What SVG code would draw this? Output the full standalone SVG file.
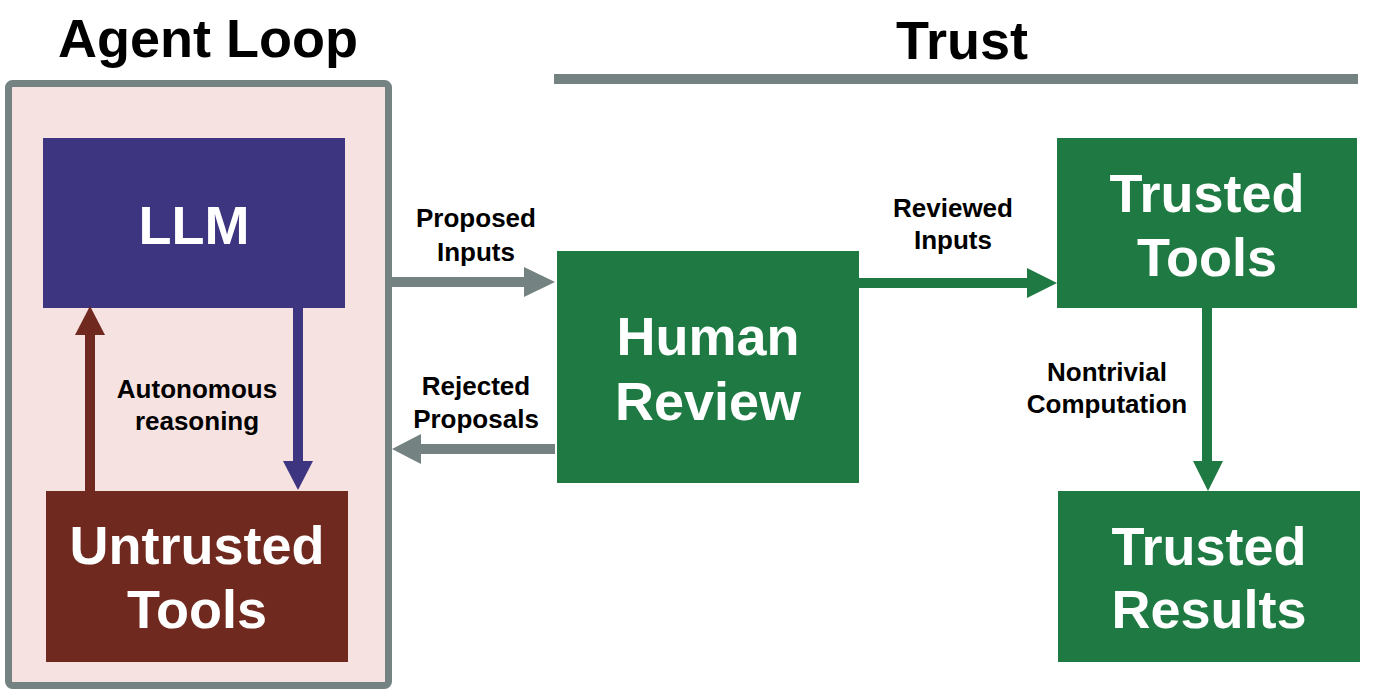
<svg xmlns="http://www.w3.org/2000/svg" width="1386" height="697" viewBox="0 0 1386 697">
<style>
.title{font-family:"Liberation Sans",Arial,sans-serif;font-weight:bold;font-size:54px;fill:#000;text-anchor:middle}
.big{font-family:"Liberation Sans",Arial,sans-serif;font-weight:bold;font-size:54px;fill:#fff;text-anchor:middle}
.lbl{font-family:"Liberation Sans",Arial,sans-serif;font-weight:bold;font-size:26px;fill:#000;text-anchor:middle}
</style>
<rect width="1386" height="697" fill="#fff"/>
<g id="agent-loop">
<rect x="8.5" y="83.5" width="380" height="602" rx="4" fill="#f6e2e0" stroke="#748281" stroke-width="7"/>
<text class="title" x="208" y="57">Agent Loop</text>
</g>
<g id="trust-header">
<text class="title" x="962" y="59">Trust</text>
<rect x="554" y="74" width="804" height="10" fill="#748281"/>
</g>
<g id="llm">
<rect x="43" y="138" width="302" height="170" fill="#3d3580"/>
<text class="big" x="194" y="244">LLM</text>
</g>
<g id="untrusted-tools">
<rect x="46" y="491" width="302" height="171" fill="#70291e"/>
<text class="big" x="197" y="564">Untrusted</text>
<text class="big" x="197" y="628">Tools</text>
</g>
<g id="human-review">
<rect x="557" y="251" width="302" height="232" fill="#1e7a42"/>
<text class="big" x="708" y="355">Human</text>
<text class="big" x="708" y="420">Review</text>
</g>
<g id="trusted-tools">
<rect x="1057" y="138" width="300" height="170" fill="#1e7a42"/>
<text class="big" x="1207" y="212">Trusted</text>
<text class="big" x="1207" y="276">Tools</text>
</g>
<g id="trusted-results">
<rect x="1058" y="491" width="302" height="171" fill="#1e7a42"/>
<text class="big" x="1209" y="565">Trusted</text>
<text class="big" x="1209" y="628">Results</text>
</g>
<g id="connectors">
<rect x="85" y="334" width="10" height="157" fill="#70291e"/>
<polygon points="75,335 105,335 90,306" fill="#70291e"/>
<rect x="293" y="308" width="10" height="154" fill="#3d3580"/>
<polygon points="283,461 313,461 298,490" fill="#3d3580"/>
<rect x="392" y="277" width="133" height="10" fill="#748281"/>
<polygon points="524,267 524,297 555,282" fill="#748281"/>
<rect x="420" y="444" width="135" height="10" fill="#748281"/>
<polygon points="421,434 421,464 392,449" fill="#748281"/>
<rect x="859" y="278" width="169" height="10" fill="#1e7a42"/>
<polygon points="1027,268 1027,298 1057,283" fill="#1e7a42"/>
<rect x="1202" y="308" width="10" height="154" fill="#1e7a42"/>
<polygon points="1193,461 1223,461 1208,491" fill="#1e7a42"/>
<text class="lbl" x="476" y="227">Proposed</text>
<text class="lbl" x="476" y="261">Inputs</text>
<text class="lbl" x="476" y="395">Rejected</text>
<text class="lbl" x="476" y="428">Proposals</text>
<text class="lbl" x="953" y="217">Reviewed</text>
<text class="lbl" x="953" y="249">Inputs</text>
<text class="lbl" x="1107" y="381">Nontrivial</text>
<text class="lbl" x="1107" y="413">Computation</text>
<text class="lbl" x="197" y="398">Autonomous</text>
<text class="lbl" x="197" y="430">reasoning</text>
</g>
</svg>
